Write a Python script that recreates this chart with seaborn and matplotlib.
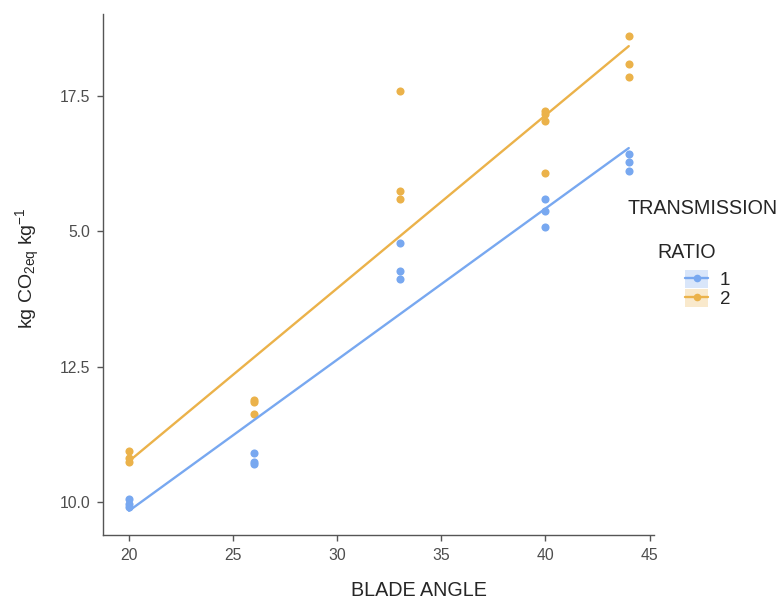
import matplotlib
matplotlib.use("Agg")
import matplotlib.pyplot as plt
import seaborn as sns
import pandas as pd
import numpy as np
from matplotlib.lines import Line2D
from matplotlib.patches import Patch
from matplotlib.legend_handler import HandlerTuple

sns.set_style("white")
plt.rcParams['font.family'] = ['Liberation Sans', 'DejaVu Sans']
plt.rcParams['mathtext.fontset'] = 'custom'
plt.rcParams['mathtext.rm'] = 'Liberation Sans'
plt.rcParams['mathtext.it'] = 'Liberation Sans'

# Data
angle_r1 = [20, 20, 20, 26, 26, 26, 33, 33, 33, 40, 40, 40, 44, 44, 44]
co2_r1 = [10.05, 9.96, 9.91, 10.90, 10.73, 10.71, 14.78, 14.27, 14.12,
          15.60, 15.38, 15.07, 16.43, 16.27, 16.12]
angle_r2 = [20, 20, 20, 26, 26, 26, 33, 33, 33, 40, 40, 40, 40, 44, 44, 44]
co2_r2 = [10.95, 10.82, 10.73, 11.88, 11.84, 11.63, 17.58, 15.75, 15.60,
          17.21, 17.16, 17.04, 16.07, 18.60, 18.09, 17.84]
ratios = ["1", "2"]
colors = {"1": "#78A8F0", "2": "#EBB24A"}

x_ticks = [20, 25, 30, 35, 40, 45]
y_ticks = [10.0, 12.5, 15.0, 17.5]
y_ticklabels = ["10.0", "12.5", "5.0", "17.5"]

df = pd.DataFrame({
    "angle": angle_r1 + angle_r2,
    "co2": co2_r1 + co2_r2,
    "ratio": ["1"] * len(angle_r1) + ["2"] * len(angle_r2),
})

fig = plt.figure(figsize=(7.82, 6.01), dpi=100)
ax = fig.add_axes([0.1317, 0.1098, 0.7043, 0.8669])

for r in ratios:
    sub = df[df.ratio == r]
    sns.regplot(data=sub, x="angle", y="co2", ax=ax, ci=None, color=colors[r],
                scatter_kws=dict(s=34, alpha=1, linewidths=0),
                line_kws=dict(lw=1.7))

ax.set_xlim(18.75, 45.2)
ax.set_ylim(9.39, 19.01)
ax.set_xticks(x_ticks)
ax.set_xticklabels([str(t) for t in x_ticks])
ax.set_yticks(y_ticks)
ax.set_yticklabels(y_ticklabels)
ax.tick_params(axis='both', direction='out', length=4, width=1, color='#555555',
               labelcolor='#4D4D4D', labelsize=11.3, pad=5, bottom=True, left=True)
for s in ["top", "right"]:
    ax.spines[s].set_visible(False)
for s in ["left", "bottom"]:
    ax.spines[s].set_color('#555555')
    ax.spines[s].set_linewidth(1)

ax.set_xlabel("")
ax.set_ylabel("")
fig.text(418.5 / 782, 1 - 590 / 601, "BLADE ANGLE", fontsize=14.2, ha='center', va='center')
fig.text(28 / 782, 1 - 268 / 601, r"kg CO$_{\mathrm{2eq}}$ kg$^{\mathrm{-1}}$", fontsize=14,
         ha='center', va='center', rotation=90)

fig.text(627 / 782, 1 - 209 / 601, "TRANSMISSION", fontsize=14.2, ha='left', va='center')
fig.text(687 / 782, 1 - 252 / 601, "RATIO", fontsize=14.1, ha='center', va='center')

handles = []
for r in ratios:
    bg = Patch(facecolor=colors[r], alpha=0.28, edgecolor='none')
    ln = Line2D([], [], color=colors[r], lw=1.7, marker='o', markersize=5.5,
                markeredgewidth=0)
    handles.append((bg, ln))
leg = fig.legend(handles, ratios, handler_map={tuple: HandlerTuple(ndivide=1, pad=0)},
                 loc='upper left', bbox_to_anchor=(685 / 782, 1 - 270 / 601),
                 frameon=False, fontsize=13.5, handlelength=1.23, handleheight=1.07,
                 handletextpad=0.64, labelspacing=0.0, borderpad=0, borderaxespad=0)

fig.savefig("out.png", dpi=100)
